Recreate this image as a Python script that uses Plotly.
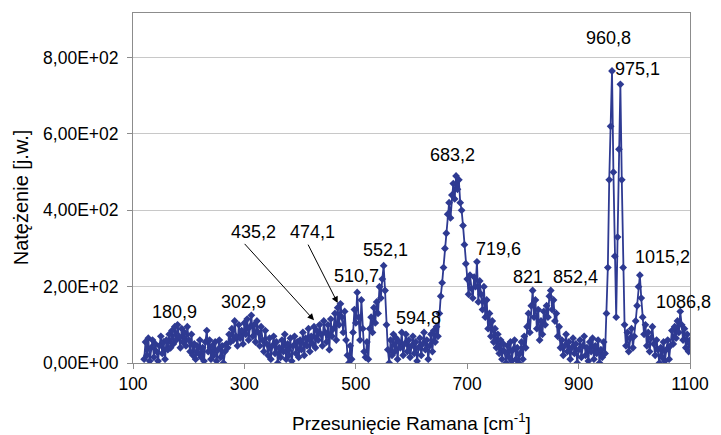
import plotly.graph_objects as go

# Raman shift grid start/step (cm-1) and intensities
shift_start = 120.0
shift_step = 2.5
intensity = [
    10, 55, 20, 65, 5, 40, 60, 15, 50, 30,
    5, 45, 70, 25, 55, 10, 60, 35, 75, 40,
    85, 50, 95, 60, 100, 70, 40, 90, 55, 80,
    45, 95, 60, 30, 75, 20, 50, 10, 45, 25,
    60, 15, 40, 5, 55, 85, 30, 60, 10, 45,
    20, 55, 5, 35, 60, 15, 45, 0, 30, 50,
    40, 75, 55, 90, 60, 110, 70, 45, 100, 65,
    85, 50, 105, 75, 115, 60, 95, 125, 70, 100,
    55, 110, 80, 45, 95, 60, 30, 85, 50, 20,
    65, 10, 45, 70, 25, 55, 0, 40, 15, 60,
    30, 75, 10, 50, 20, 65, 5, 45, 70, 25,
    55, 15, 60, 35, 80, 20, 65, 45, 90, 30,
    70, 50, 95, 40, 85, 60, 100, 75, 45, 110,
    80, 55, 100, 35, 115, 70, 90, 130, 60, 145,
    100, 155, 120, 80, 135, 60, 20, 0, 45, 10,
    80, 140, 105, 185, 120, 60, 165, 90, 30, 15,
    55, 10, 90, 120, 80, 145, 105, 160, 130, 200,
    170, 220, 255, 190, 100, 35, 0, 60, 20, 75,
    30, 65, 10, 55, 40, 80, 20, 50, 75, 30,
    60, 15, 45, 70, 25, 55, 5, 40, 65, 20,
    50, 80, 35, 60, 10, 45, 75, 30, 85, 55,
    95, 70, 130, 175, 210, 250, 300, 340, 390, 420,
    380, 440, 470, 430, 490, 455, 480, 420, 400, 360,
    310, 260, 220, 180, 230, 195, 170, 225, 200, 265,
    160, 215, 180, 140, 200, 120, 165, 90, 130, 70,
    110, 55, 90, 40, 75, 25, 60, 10, 50, 30,
    0, 45, 15, 55, 5, 35, 60, 10, 40, 0,
    25, 55, 10, 70, 40, 95, 130, 80, 150, 190,
    120, 165, 90, 140, 60, 110, 75, 135, 100, 150,
    120, 175, 190, 140, 165, 110, 130, 70, 95, 40,
    60, 20, 45, 75, 30, 55, 10, 40, 65, 25,
    50, 0, 35, 60, 15, 45, 70, 20, 40, 5,
    55, 30, 65, 10, 45, 25, 60, 0, 35, 15,
    55, 25, 130, 250, 480, 620, 765, 500, 280, 120,
    330, 560, 730, 480, 250, 100, 45, 80, 30, 65,
    90, 40, 70, 110, 150, 200, 230, 170, 120, 75,
    100, 45, 80, 30, 65, 95, 50, 20, 60, 35,
    0, 40, 15, 55, 5, 35, 60, 10, 45, 85,
    50, 95, 65, 110, 80, 135, 100, 60, 90, 40,
    75, 30, 60,
]
shift = [shift_start + shift_step * i for i in range(len(intensity))]

# Peak labels
peak_labels = ["180,9", "302,9", "435,2", "474,1", "510,7", "552,1", "594,8",
               "683,2", "719,6", "821", "852,4", "960,8", "975,1", "1015,2", "1086,8"]
label_x = [174, 298, 317, 422, 501, 554, 612, 674, 757, 810, 895, 953, 1006, 1050, 1088]
label_y = [133, 159, 342, 342, 227, 295, 118, 546, 298, 225, 225, 852, 771, 277, 159]

# Arrows (tail -> tip)
arrow_tail_x = [298, 413]
arrow_tail_y = [316, 314]
arrow_tip_x = [425, 467.5]
arrow_tip_y = [112, 157]

y_ticks = [0, 200, 400, 600, 800]
y_tick_text = ["0,00E+00", "2,00E+02", "4,00E+02", "6,00E+02", "8,00E+02"]
x_ticks = [100, 300, 500, 700, 900, 1100]

color = "#2E3A92"
font = "Liberation Sans, Arial, sans-serif"

fig = go.Figure()
fig.add_trace(go.Scatter(
    x=shift, y=intensity, mode="lines+markers",
    line=dict(color=color, width=1.8),
    marker=dict(symbol="diamond", size=6, color=color),
    showlegend=False, hoverinfo="skip",
))

annotations = []
for t, x, y in zip(peak_labels, label_x, label_y):
    annotations.append(dict(x=x, y=y, xref="x", yref="y", text=t, showarrow=False,
                            font=dict(size=18, color="black", family=font)))
for tx, ty, hx, hy in zip(arrow_tail_x, arrow_tail_y, arrow_tip_x, arrow_tip_y):
    annotations.append(dict(x=hx, y=hy, ax=tx, ay=ty, xref="x", yref="y", axref="x", ayref="y",
                            text="", showarrow=True, arrowhead=2, arrowsize=1.3,
                            arrowwidth=1, arrowcolor="black"))
annotations.append(dict(x=0.5, y=-0.168, xref="paper", yref="paper",
                        text="Przesunięcie Ramana [cm<sup>-1</sup>]", showarrow=False,
                        xanchor="center", yanchor="middle",
                        font=dict(size=19, color="black", family=font)))
annotations.append(dict(x=-0.1996, y=0.473, xref="paper", yref="paper",
                        text="Natężenie [j.w.]", showarrow=False, textangle=-90,
                        xanchor="center", yanchor="middle",
                        font=dict(size=20, color="black", family=font)))

fig.update_layout(
    width=721, height=435,
    margin=dict(l=133, r=22, t=12, b=72),
    paper_bgcolor="white", plot_bgcolor="white",
    font=dict(family=font, color="black"),
    annotations=annotations,
    xaxis=dict(range=[100, 1100], tickvals=x_ticks, ticks="outside", ticklen=5,
               tickcolor="#8c8c8c", showline=True, linecolor="#8c8c8c", linewidth=1,
               mirror=True, showgrid=False, zeroline=False,
               tickfont=dict(size=17.5, family=font, color="black")),
    yaxis=dict(range=[0, 917], tickvals=y_ticks, ticktext=y_tick_text, ticks="outside",
               ticklen=5, tickcolor="#8c8c8c", showline=True, linecolor="#8c8c8c",
               linewidth=1, mirror=True, showgrid=True, gridcolor="#c8c8c8",
               gridwidth=1, zeroline=False, ticklabelstandoff=5,
               tickfont=dict(size=17.5, family=font, color="black")),
)

fig.write_html("out.html")
